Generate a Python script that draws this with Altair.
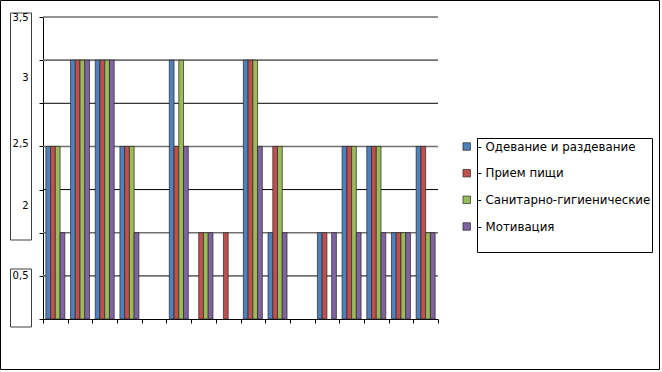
import altair as alt
import pandas as pd

# ---- data -------------------------------------------------------------
categories = [str(i) for i in range(1, 17)]
series = ["Одевание и раздевание", "Прием пищи", "Санитарно-гигиенические", "Мотивация"]
dressing = [2, 3, 3, 2, 0, 3, 0, 0, 3, 1, 0, 1, 2, 2, 1, 2]
eating = [2, 3, 3, 2, 0, 2, 1, 1, 3, 2, 0, 1, 2, 2, 1, 2]
hygiene = [2, 3, 3, 2, 0, 3, 1, 0, 3, 2, 0, 0, 2, 2, 1, 1]
motivation = [1, 3, 3, 1, 0, 2, 1, 0, 2, 1, 0, 1, 1, 1, 1, 1]
colors = ["#4F81BD", "#C0504D", "#9BBB59", "#8064A2"]
y_ticks = [0, 0.5, 1, 1.5, 2, 2.5, 3, 3.5]
grid_dark = [1.5, 2.5]
grid_light = [0.5, 1, 2, 3, 3.5]
tick_labels = ["3,5", "3", "2,5", "2", "0,5"]
tick_label_at = [3.49, 2.79, 2.03, 1.31, 0.5]

# ---- layout -----------------------------------------------------------
W, H = 395, 302
ML, MT = 43, 17
FONT = "DejaVu Sans"

rows = []
for s, vals in zip(series, [dressing, eating, hygiene, motivation]):
    for c, v in zip(categories, vals):
        rows.append({"cat": c, "series": s, "value": v})
df = pd.DataFrame(rows)

yscale = alt.Scale(domain=[0, 3.5], nice=False, zero=True)
color_scale = alt.Scale(domain=series, range=colors)
one = pd.DataFrame({"a": [0]})

frame = alt.Chart(one).mark_rect(fillOpacity=0, stroke="#000000", strokeWidth=1).encode(
    x=alt.value(-ML + 0.5), x2=alt.value(616.5), y=alt.value(-MT + 0.5), y2=alt.value(352.5)
)

grid_l = alt.Chart(pd.DataFrame({"v": grid_light})).mark_rule(color="#707070", strokeWidth=1.6).encode(
    y=alt.Y("v:Q", scale=yscale, axis=None), x=alt.value(0), x2=alt.value(W)
)
grid_d = alt.Chart(pd.DataFrame({"v": grid_dark})).mark_rule(color="#000000", strokeWidth=1).encode(
    y=alt.Y("v:Q", scale=yscale, axis=None), x=alt.value(0), x2=alt.value(W)
)

bars = alt.Chart(df).transform_filter("datum.value > 0").mark_bar(
    stroke="#262626", strokeWidth=0.7
).encode(
    x=alt.X(
        "cat:N",
        sort=categories,
        scale=alt.Scale(domain=categories, paddingInner=0, paddingOuter=0),
        axis=alt.Axis(labels=False, title=None, tickBand="extent", tickSize=4,
                      domainColor="#000000", tickColor="#000000", grid=False),
    ),
    xOffset=alt.XOffset("series:N", sort=series,
                        scale=alt.Scale(domain=series, paddingInner=0, paddingOuter=0.6)),
    y=alt.Y(
        "value:Q",
        scale=yscale,
        axis=alt.Axis(values=y_ticks, labels=False, title=None, grid=False, tickSize=4,
                      domainColor="#000000", tickColor="#000000"),
    ),
    color=alt.Color("series:N", scale=color_scale, legend=None),
)

box1 = alt.Chart(one).mark_rect(fill="white", stroke="#404040", strokeWidth=1).encode(
    x=alt.value(-32.5), x2=alt.value(-11.5), y=alt.value(-4), y2=alt.value(223)
)
box2 = alt.Chart(one).mark_rect(fill="white", stroke="#404040", strokeWidth=1).encode(
    x=alt.value(-32.5), x2=alt.value(-11.5), y=alt.value(252), y2=alt.value(310)
)

tl = alt.Chart(pd.DataFrame({"label": tick_labels, "at": tick_label_at})).mark_text(
    align="right", baseline="middle", font=FONT, fontSize=10, color="#000000"
).encode(
    x=alt.value(-14.5), y=alt.Y("at:Q", scale=yscale, axis=None), text="label:N"
)

legend_df = pd.DataFrame({"series": series, "label": ["- " + s for s in series]})
leg_scale = alt.Scale(type="point", domain=series, range=[129.5, 209.5], padding=0)

leg_box = alt.Chart(one).mark_rect(fill="white", stroke="#000000", strokeWidth=1).encode(
    x=alt.value(434.5), x2=alt.value(609.5), y=alt.value(121.5), y2=alt.value(235.5)
)
leg_sq = alt.Chart(legend_df).mark_square(size=56, stroke="#262626", strokeWidth=0.7, opacity=1).encode(
    x=alt.value(423.7),
    y=alt.Y("series:N", sort=series, scale=leg_scale, axis=None),
    color=alt.Color("series:N", scale=color_scale, legend=None),
)
leg_txt = alt.Chart(legend_df).mark_text(
    align="left", baseline="middle", font=FONT, fontSize=11.8, color="#000000"
).encode(
    x=alt.value(434.5),
    y=alt.Y("series:N", sort=series, scale=leg_scale, axis=None),
    text="label:N",
)

chart = alt.layer(
    frame, grid_l, grid_d, bars, box1, box2, tl, leg_box, leg_sq, leg_txt
).resolve_scale(y="independent").properties(
    width=W,
    height=H,
    autosize="none",
    padding={"left": ML, "top": MT, "right": 662 - ML - W, "bottom": 372 - MT - H},
    background="white",
).configure_view(stroke=None)

chart.save("out.html", embed_options={"renderer": "svg", "actions": False})
